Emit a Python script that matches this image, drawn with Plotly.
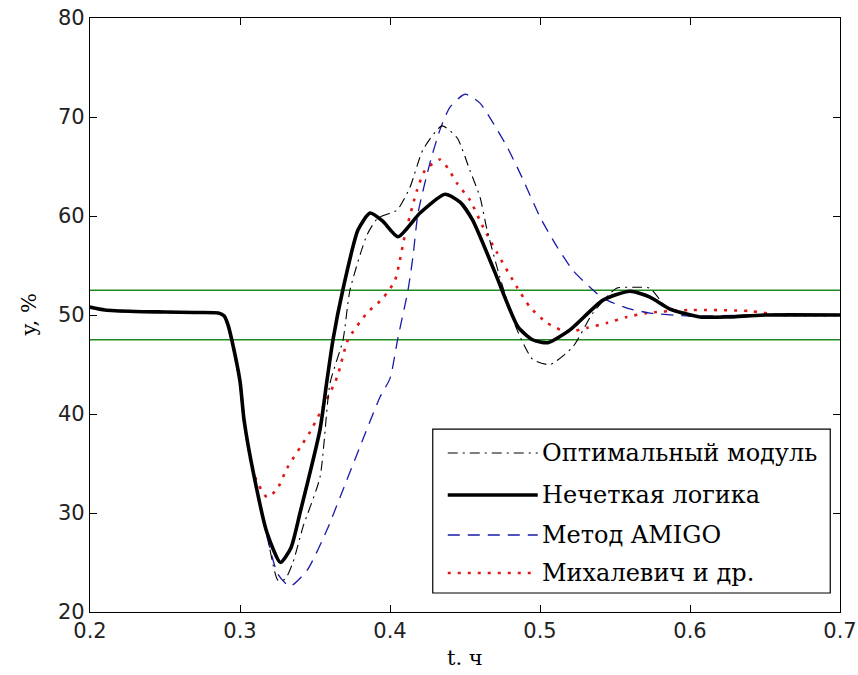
import plotly.graph_objects as go

# ---- data ----
series_names = ["Оптимальный модуль", "Нечеткая логика", "Метод AMIGO", "Михалевич и др."]

t_fuzzy = [0.200, 0.210, 0.230, 0.250, 0.270, 0.2855, 0.2895, 0.292, 0.2945, 0.300, 0.3027, 0.309, 0.318,
           0.327, 0.334, 0.340, 0.3533, 0.358, 0.362, 0.3685, 0.3787, 0.3867, 0.395, 0.4053,
           0.420, 0.4367, 0.4467, 0.455, 0.4713, 0.4747, 0.4853, 0.495, 0.5053, 0.520, 0.542,
           0.560, 0.5733, 0.5867, 0.6067, 0.625, 0.650, 0.700]
y_fuzzy = [50.8, 50.5, 50.35, 50.3, 50.25, 50.2, 49.9, 49.0, 47.5, 43.3, 39.4, 34.0, 28.0,
           25.0, 26.5, 30.0, 38.4, 43.4, 47.5, 52.5, 58.6, 60.3, 59.5, 57.9,
           60.3, 62.2, 61.4, 59.6, 53.8, 52.5, 48.8, 47.5, 47.2, 48.5, 51.5,
           52.4, 51.8, 50.6, 49.8, 49.8, 50.0, 50.0]

t_optimal = [0.200, 0.210, 0.230, 0.250, 0.270, 0.2855, 0.2895, 0.292, 0.2945, 0.300, 0.3027, 0.309, 0.318,
             0.3253, 0.330, 0.3353, 0.3420, 0.3533, 0.360, 0.3687, 0.3733, 0.3847, 0.3920,
             0.4047, 0.4133, 0.4220, 0.4347, 0.4447, 0.4533, 0.4600, 0.4647, 0.4733, 0.4847,
             0.4953, 0.5067, 0.5220, 0.5353, 0.5510, 0.5620, 0.5733, 0.5847, 0.600, 0.650, 0.700]
y_optimal = [50.8, 50.5, 50.35, 50.3, 50.25, 50.2, 49.9, 49.0, 47.5, 43.3, 39.4, 34.0, 27.8,
             23.2, 23.3, 25.0, 28.6, 33.6, 43.1, 47.5, 52.5, 58.1, 59.8,
             60.6, 62.9, 66.7, 69.1, 67.9, 64.6, 61.9, 58.6, 53.8, 48.5,
             45.5, 45.0, 46.8, 50.2, 52.7, 52.8, 52.7, 50.7, 49.9, 50.0, 50.0]

t_amigo = [0.200, 0.210, 0.230, 0.250, 0.270, 0.2855, 0.2895, 0.292, 0.2945, 0.300, 0.3027, 0.309, 0.318,
           0.3253, 0.3333, 0.3447, 0.358, 0.3667, 0.380, 0.3933, 0.400, 0.4053, 0.412, 0.4153,
           0.4187, 0.4267, 0.4333, 0.440, 0.450, 0.460, 0.4687, 0.478, 0.488, 0.500, 0.5113,
           0.522, 0.5333, 0.542, 0.558, 0.5733, 0.600, 0.640, 0.700]
y_amigo = [50.8, 50.5, 50.35, 50.3, 50.25, 50.2, 49.9, 49.0, 47.5, 43.3, 39.4, 34.0, 27.6,
           23.8, 22.6, 24.2, 28.3, 31.6, 36.7, 41.7, 43.6, 47.7, 52.5, 55.9,
           60.3, 65.4, 68.7, 71.0, 72.3, 71.4, 69.4, 67.0, 63.9, 59.9, 56.9,
           54.5, 52.8, 51.7, 50.7, 50.2, 49.9, 50.0, 50.0]

t_mikh = [0.200, 0.210, 0.230, 0.250, 0.270, 0.2855, 0.2895, 0.292, 0.2945, 0.300, 0.3027, 0.309, 0.318,
          0.3247, 0.3313, 0.340, 0.3467, 0.3533, 0.3647, 0.372, 0.3847, 0.3953, 0.4033,
          0.4100, 0.4180, 0.4233, 0.4333, 0.4387, 0.4447, 0.4533, 0.4620, 0.4713, 0.4847,
          0.4933, 0.5047, 0.5180, 0.5313, 0.5447, 0.5580, 0.5713, 0.600, 0.640, 0.660, 0.700]
y_mikh = [50.8, 50.5, 50.35, 50.3, 50.25, 50.2, 49.9, 49.0, 47.5, 43.3, 39.4, 34.0, 31.6,
          32.4, 34.5, 36.6, 38.2, 40.1, 43.7, 47.5, 50.2, 51.7, 53.5,
          58.1, 62.6, 64.6, 65.7, 64.8, 63.3, 61.6, 58.9, 56.3, 52.8,
          50.8, 49.2, 48.3, 48.7, 49.2, 49.8, 50.2, 50.5, 50.4, 50.0, 50.0]

band_levels = [47.5, 52.5]

x_ticks = [0.2, 0.3, 0.4, 0.5, 0.6, 0.7]
y_ticks = [20, 30, 40, 50, 60, 70, 80]

x_title = "t. ч"
y_title = "y, %"

# ---- styles ----
styles = [
    dict(color="black", width=1.1, dash="10px,5px,2px,5px"),
    dict(color="black", width=3.6, dash="solid"),
    dict(color="#1a1aa8", width=1.3, dash="12px,8px"),
    dict(color="#e01818", width=2.6, dash="3px,7px"),
]

fig = go.Figure()

for lvl in band_levels:
    fig.add_trace(go.Scatter(x=[x_ticks[0], x_ticks[-1]], y=[lvl, lvl], mode="lines",
                             line=dict(color="#1f8a1f", width=1.6), showlegend=False,
                             hoverinfo="skip"))

data = [(t_optimal, y_optimal), (t_fuzzy, y_fuzzy), (t_amigo, y_amigo), (t_mikh, y_mikh)]
order = [3, 2, 0, 1]
for i in order:
    tx, ty = data[i]
    fig.add_trace(go.Scatter(x=tx, y=ty, mode="lines", name=series_names[i],
                             line=dict(shape="spline", smoothing=0.6, **styles[i]),
                             showlegend=False))

# ---- manual legend (MATLAB-like) ----
lx0, lx1, ly0, ly1 = 0.457, 0.987, 0.032, 0.308
fig.add_shape(type="rect", xref="paper", yref="paper", x0=lx0, x1=lx1, y0=ly0, y1=ly1,
              line=dict(color="black", width=1.2), fillcolor="white", layer="above")
row_y = [0.2677, 0.197, 0.1296, 0.0657]
for i, ry in enumerate(row_y):
    fig.add_shape(type="line", xref="paper", yref="paper", x0=0.477, x1=0.597, y0=ry, y1=ry,
                  line=dict(color=styles[i]["color"], width=styles[i]["width"],
                            dash=styles[i]["dash"]), layer="above")
    fig.add_annotation(xref="paper", yref="paper", x=0.600, y=ry, text=series_names[i],
                       showarrow=False, xanchor="left", yanchor="middle",
                       font=dict(family="DejaVu Serif", size=24, color="black"))

# axis titles
fig.add_annotation(xref="paper", yref="paper", x=0.5, y=-0.078, text=x_title,
                   showarrow=False, xanchor="center", yanchor="middle",
                   font=dict(family="DejaVu Serif", size=21, color="black"))
fig.add_annotation(xref="paper", yref="paper", x=-0.082, y=0.5, text=y_title,
                   showarrow=False, xanchor="center", yanchor="middle", textangle=-90,
                   font=dict(family="DejaVu Serif", size=21, color="black"))

axis_common = dict(showline=True, linecolor="black", linewidth=1.2, mirror="ticks",
                   ticks="inside", ticklen=7, tickcolor="black", showgrid=False,
                   zeroline=False, automargin=False,
                   tickfont=dict(family="DejaVu Sans", size=21, color="#222"))

fig.update_layout(
    width=858, height=675,
    margin=dict(l=90, r=18, t=18, b=63),
    paper_bgcolor="white", plot_bgcolor="white",
    xaxis=dict(range=[0.2, 0.7], tickvals=x_ticks, ticktext=[f"{v:g}" for v in x_ticks],
               **axis_common),
    yaxis=dict(range=[20, 80], tickvals=y_ticks, ticktext=[str(v) for v in y_ticks],
               **axis_common),
)

# remove the default 8px page margin so the figure fills the 858x675 window exactly
fig.write_html("out.html", config={"displayModeBar": False},
               post_script="document.body.style.margin='0px';document.body.style.overflow='hidden';")
